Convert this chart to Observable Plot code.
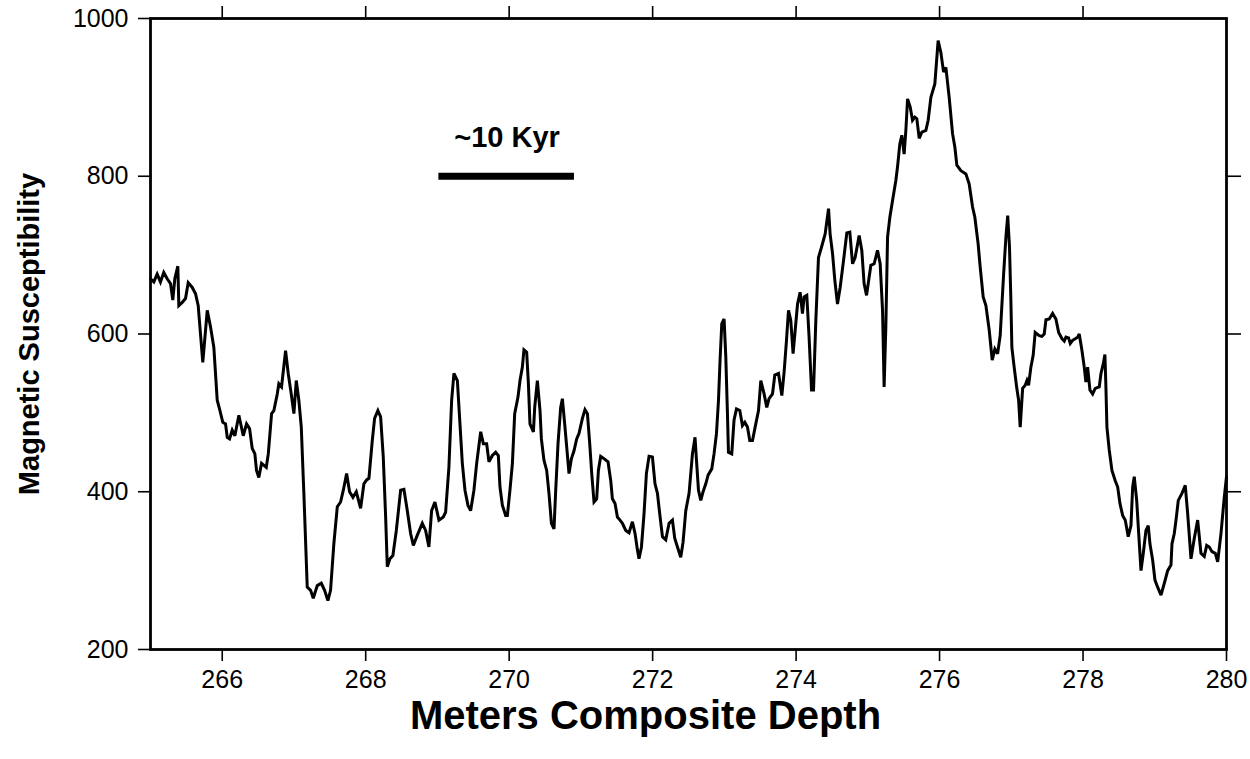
<!DOCTYPE html>
<html>
<head>
<meta charset="utf-8">
<script src="https://cdn.jsdelivr.net/npm/d3@7"></script>
<script src="https://cdn.jsdelivr.net/npm/@observablehq/plot@0.6"></script>
<style>
  html, body { margin: 0; padding: 0; background: #ffffff; }
  #chart svg { display: block; }
</style>
</head>
<body>
<div id="chart"></div>
<script>
// ---- Data ----
const depth = [
  265.000,265.046,265.093,265.139,265.185,265.233,265.279,265.311,265.339,265.381,
  265.395,265.442,265.488,265.526,265.582,265.628,265.665,265.697,265.729,265.791,
  265.837,265.883,265.930,265.962,266.008,266.046,266.070,266.102,266.139,266.176,
  266.232,266.293,266.339,266.381,266.418,266.455,266.478,266.510,266.548,266.614,
  266.642,266.688,266.720,266.767,266.789,266.827,266.883,266.920,266.962,266.999,
  267.032,267.068,267.102,267.138,267.185,267.232,267.269,267.325,267.381,267.427,
  267.473,267.510,267.556,267.604,267.650,267.688,267.734,267.775,267.822,267.869,
  267.929,267.975,268.013,268.045,268.092,268.124,268.170,268.208,268.245,268.278,
  268.301,268.338,268.379,268.427,268.487,268.533,268.580,268.626,268.664,268.720,
  268.789,268.835,268.881,268.919,268.965,269.021,269.082,269.114,269.160,269.198,
  269.230,269.278,269.314,269.347,269.384,269.425,269.463,269.509,269.547,269.603,
  269.640,269.686,269.718,269.766,269.812,269.849,269.872,269.905,269.951,269.975,
  270.011,270.045,270.077,270.123,270.151,270.184,270.206,270.244,270.268,270.290,
  270.338,270.356,270.393,270.430,270.449,270.485,270.523,270.555,270.589,270.625,
  270.649,270.681,270.718,270.742,270.774,270.802,270.834,270.868,270.904,270.941,
  270.974,271.021,271.057,271.091,271.123,271.151,271.183,271.220,271.244,271.276,
  271.322,271.378,271.416,271.439,271.476,271.509,271.545,271.579,271.625,271.671,
  271.718,271.755,271.788,271.810,271.844,271.880,271.913,271.950,271.997,272.033,
  272.067,272.099,272.137,272.183,272.229,272.276,272.308,272.346,272.392,272.424,
  272.462,272.508,272.555,272.591,272.611,272.639,272.671,272.703,272.741,272.773,
  272.824,272.856,272.890,272.918,272.940,272.964,272.996,273.020,273.043,273.057,
  273.103,273.135,273.169,273.215,273.252,273.285,273.322,273.354,273.392,273.438,
  273.476,273.508,273.554,273.591,273.623,273.671,273.703,273.755,273.801,273.833,
  273.866,273.894,273.926,273.958,274.020,274.056,274.089,274.112,274.149,274.181,
  274.215,274.243,274.275,274.312,274.354,274.405,274.452,274.474,274.508,274.540,
  274.577,274.614,274.661,274.707,274.749,274.787,274.823,274.879,274.916,274.948,
  274.982,275.018,275.042,275.088,275.135,275.172,275.205,275.227,275.251,275.275,
  275.307,275.344,275.391,275.414,275.446,275.474,275.506,275.530,275.554,275.590,
  275.623,275.656,275.683,275.716,275.753,275.809,275.841,275.879,275.934,275.980,
  276.018,276.056,276.088,276.134,276.181,276.213,276.241,276.297,276.367,276.413,
  276.460,276.492,276.538,276.566,276.608,276.646,276.692,276.734,276.771,276.809,
  276.845,276.893,276.925,276.950,276.975,276.994,277.008,277.040,277.074,277.102,
  277.124,277.158,277.194,277.218,277.241,277.273,277.305,277.333,277.389,277.427,
  277.459,277.483,277.529,277.576,277.622,277.660,277.706,277.738,277.762,277.799,
  277.822,277.855,277.891,277.925,277.947,277.985,278.017,278.040,278.064,278.096,
  278.134,278.170,278.226,278.250,278.282,278.305,278.319,278.333,278.365,278.403,
  278.449,278.483,278.515,278.552,278.589,278.630,278.668,278.692,278.714,278.748,
  278.776,278.808,278.840,278.877,278.909,278.933,278.971,279.003,279.040,279.087,
  279.133,279.180,279.226,279.240,279.272,279.296,279.328,279.379,279.425,279.459,
  279.505,279.551,279.598,279.644,279.690,279.724,279.760,279.798,279.844,279.877,
  279.923,279.969,280.000
];
const susceptibility = [
  670,666,676,666,678,670,664,643,670,686,
  636,640,645,665,659,651,636,600,564,630,
  609,583,516,505,488,486,469,467,478,471,
  497,471,486,480,455,448,427,418,436,431,
  448,499,503,524,537,533,579,550,524,499,
  541,516,482,398,279,275,265,281,284,275,
  262,275,334,381,387,402,423,400,393,400,
  379,410,415,417,465,493,503,495,444,368,
  305,315,319,351,402,403,376,347,332,345,
  360,351,330,376,387,364,368,374,431,516,
  550,541,486,436,402,383,376,402,436,476,
  461,461,438,446,450,446,406,383,370,370,
  402,436,499,520,541,558,580,577,537,486,
  476,507,541,503,467,440,427,398,360,353,
  402,461,507,518,486,457,423,442,452,467,
  474,493,504,499,461,423,387,391,427,445,
  442,438,414,391,385,368,364,360,351,348,
  362,347,326,315,330,372,423,445,444,410,
  398,372,343,339,360,364,341,330,317,336,
  376,398,448,469,440,402,389,400,410,421,
  429,448,474,516,567,613,619,571,499,450,
  448,491,505,503,484,488,482,465,465,486,
  503,541,524,507,518,524,548,550,522,552,
  592,630,617,575,638,653,626,647,649,596,
  529,529,617,697,710,727,759,727,702,668,
  638,659,693,728,729,689,697,725,706,664,
  649,672,687,689,706,689,630,533,609,723,
  748,769,795,812,841,852,828,858,898,888,
  871,875,873,848,856,858,871,900,917,972,
  957,932,938,900,854,837,814,807,803,790,
  761,748,714,685,647,636,605,567,581,575,
  598,676,723,750,710,643,583,558,533,516,
  482,531,535,541,535,558,573,602,598,597,
  600,618,619,626,619,602,594,591,596,595,
  588,592,594,596,600,579,558,539,558,529,
  524,531,533,550,562,574,533,482,453,427,
  414,406,385,370,364,343,357,406,419,389,
  347,300,322,351,357,334,313,288,279,269,
  284,300,307,334,347,364,389,398,408,372,
  315,341,364,322,318,332,330,324,322,311,
  347,393,419
];

const xDomain = [265, 280];
const yDomain = [200, 1000];
const xTicks = [266, 268, 270, 272, 274, 276, 278, 280];
const xTopTicks = [266, 268, 270, 272, 274, 276, 278];
const yTicks = [200, 400, 600, 800, 1000];
const yRightTicks = [400, 600, 800];

const scaleBarDepths = [269.02, 270.91];
const scaleBarValue = [800];
const scaleLabelDepth = [269.97];
const scaleLabelValue = [837];
const scaleLabelText = ["~10 Kyr"];

const xTitle = "Meters Composite Depth";
const yTitle = "Magnetic Susceptibility";

// ---- Build table ----
const series = depth.map((d, i) => ({depth: d, value: susceptibility[i]}));
const scaleBar = [{x1: scaleBarDepths[0], x2: scaleBarDepths[1], y: scaleBarValue[0]}];
const scaleLabel = [{x: scaleLabelDepth[0], y: scaleLabelValue[0], text: scaleLabelText[0]}];

const FONT = "'Liberation Sans', Arial, Helvetica, sans-serif";

const chart = Plot.plot({
  width: 1250,
  height: 759,
  marginLeft: 150,
  marginRight: 24,
  marginTop: 18,
  marginBottom: 110,
  style: {fontFamily: FONT, fontSize: "24px", background: "#ffffff", color: "#000000"},
  x: {domain: xDomain},
  y: {domain: yDomain},
  marks: [
    Plot.axisX({anchor: "bottom", ticks: xTicks, tickSize: 12, tickPadding: 9, strokeWidth: 1.6,
                tickFormat: d => String(d), label: null, fontSize: 25}),
    Plot.axisX({anchor: "top", ticks: xTopTicks, tickSize: 13, strokeWidth: 1.6,
                tickFormat: () => "", label: null}),
    Plot.axisY({anchor: "left", ticks: yTicks, tickSize: 12, tickPadding: 10, strokeWidth: 1.6,
                tickFormat: d => String(d), label: null, fontSize: 25}),
    Plot.axisY({anchor: "right", ticks: yRightTicks, tickSize: 14, strokeWidth: 1.6,
                tickFormat: () => "", label: null}),
    Plot.line(series, {x: "depth", y: "value", stroke: "#000", strokeWidth: 3,
                       strokeLinejoin: "miter", strokeMiterlimit: 3}),
    Plot.ruleY(scaleBar, {x1: "x1", x2: "x2", y: "y", stroke: "#000", strokeWidth: 7}),
    Plot.text(scaleLabel, {x: "x", y: "y", text: "text", fontSize: 29, fontWeight: "bold",
                           lineAnchor: "bottom", textAnchor: "middle", fill: "#000"}),
    Plot.frame({stroke: "#000", strokeWidth: 2.8}),
    Plot.text([xTitle], {frameAnchor: "bottom", text: d => d, fontSize: 40, fontWeight: "bold",
                         textAnchor: "middle", lineAnchor: "bottom", dx: -43, dy: 79, fill: "#000"}),
    Plot.text([yTitle], {frameAnchor: "left", text: d => d, fontSize: 29, fontWeight: "bold",
                         rotate: -90, textAnchor: "middle", lineAnchor: "bottom", dx: -112, dy: 0, fill: "#000"})
  ]
});

document.getElementById("chart").appendChild(chart);
</script>
</body>
</html>
